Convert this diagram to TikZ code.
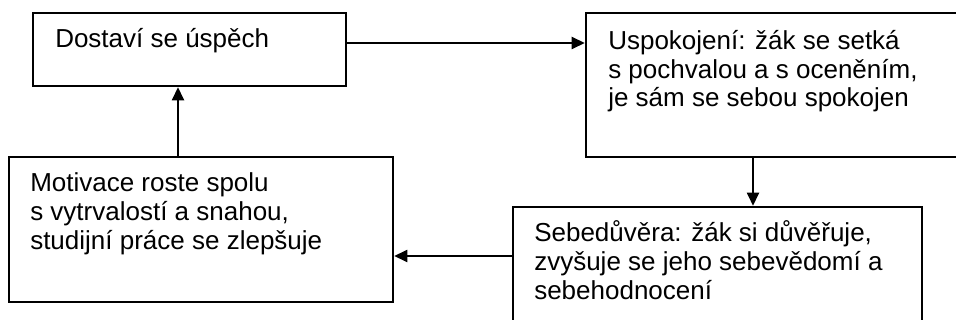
\documentclass[tikz,border=0pt]{standalone}
\usepackage{fontspec}
\setmainfont{Liberation Sans}
\usetikzlibrary{arrows.meta,fit}
\tikzset{
  box/.style={draw=black, line width=1.7pt, inner sep=0pt, fill=none},
  txt/.style={anchor=base west, inner sep=0pt, align=left,
    font=\fontsize{19.5pt}{21.4pt}\selectfont},
  arr/.style={line width=1.8pt, -{Triangle[length=10pt,width=9pt]}}
}
\begin{document}
\begin{tikzpicture}[x=0.75pt,y=-0.75pt]
\useasboundingbox (0,0) rectangle (956,320);
\fill[white] (0,0) rectangle (956,320);
\clip (0,0) rectangle (956,320);
\node[box, fit={(33,13) (346,86)}] (b1) {};
\node[box, fit={(586,13) (975,157)}] (b2) {};
\node[box, fit={(9,157) (393,302)}] (b3) {};
\node[box, fit={(513,207) (922,335)}] (b4) {};
\node[txt] (t1) at (55,48) {Dostaví se úspěch};
\node[txt] (t2) at (608,107) {Uspokojení: žák se setká\\s pochvalou a s oceněním,\\je sám se sebou spokojen};
\node[txt] (t3) at (30,249) {Motivace roste spolu\\s vytrvalostí a snahou,\\studijní práce se zlepšuje};
\node[txt] (t4) at (534,299) {Sebedůvěra: žák si důvěřuje,\\zvyšuje se jeho sebevědomí a\\sebehodnocení};
\draw[arr] (b1.east |- 0,43) -- (b2.west |- 0,43);
\draw[arr] (b2.south -| 753,0) -- (b4.north -| 753,0);
\draw[arr] (b4.west |- 0,256) -- (b3.east |- 0,256);
\draw[arr] (b3.north -| 178,0) -- (b1.south -| 178,0);
\end{tikzpicture}
\end{document}
